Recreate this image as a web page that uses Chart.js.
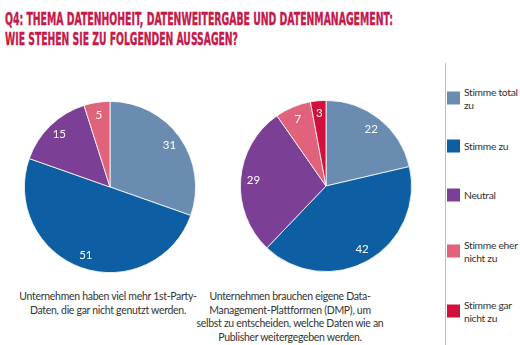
<!DOCTYPE html>
<html>
<head>
<meta charset="utf-8">
<script src="https://cdn.jsdelivr.net/npm/chart.js@4"></script>
<style>
  body { margin: 0; width: 520px; height: 345px; background: #fff; position: relative; overflow: hidden; font-family: Lato, "Open Sans", sans-serif; }
  .title { position: absolute; left: 5px; color: #c6184a; font-family: "DejaVu Sans Condensed", "DejaVu Sans", sans-serif; font-weight: bold; font-size: 18.5px; white-space: nowrap; transform-origin: 0 0; line-height: 1; -webkit-text-stroke: 0.4px #c6184a; }
  .pie { position: absolute; width: 180px; height: 180px; }
  .caption { position: absolute; top: 290px; text-align: center; font-size: 10.5px; line-height: 13.7px; color: #333; white-space: nowrap; letter-spacing: -0.3px; }
  .divider { position: absolute; left: 445px; top: 63px; width: 1px; height: 282px; background: #aebfcf; }
  .legend-item { position: absolute; left: 447px; display: flex; align-items: center; transform: translateY(-50%); }
  .legend-item .box { width: 13px; height: 13px; flex: none; }
  .legend-item .txt { margin-left: 4px; font-size: 10.3px; line-height: 12.5px; color: #333; white-space: nowrap; letter-spacing: -0.3px; }
</style>
</head>
<body>
<div class="title" id="t1" style="top: 10px;"></div>
<div class="title" id="t2" style="top: 30px;"></div>

<div class="pie" style="left: 20px; top: 97px;"><canvas id="pieLinks"></canvas></div>
<div class="pie" style="left: 236px; top: 96px;"><canvas id="pieRechts"></canvas></div>

<div class="caption" id="cap1" style="left: 8px; width: 200px;"></div>
<div class="caption" id="cap2" style="left: 190px; width: 200px;"></div>

<div class="divider"></div>
<div id="legende"></div>

<script>
const titel = ['Q4: THEMA DATENHOHEIT, DATENWEITERGABE UND DATENMANAGEMENT:', 'WIE STEHEN SIE ZU FOLGENDEN AUSSAGEN?'];
const titelBreite = [388, 233];

const kategorien = [['Stimme total', 'zu'], ['Stimme zu'], ['Neutral'], ['Stimme eher', 'nicht zu'], ['Stimme gar', 'nicht zu']];
const farben = ['#6a8cb0', '#0d5ea3', '#7b3f96', '#e1637b', '#d1103c'];

const werteLinks = [31, 51, 15, 5, 0];
const werteRechts = [22, 42, 29, 7, 3];

const aussageLinks = ['Unternehmen haben viel mehr 1st-Party-', 'Daten, die gar nicht genutzt werden.'];
const aussageRechts = ['Unternehmen brauchen eigene Data-', 'Management-Plattformen (DMP), um', 'selbst zu entscheiden, welche Daten wie an', 'Publisher weitergegeben werden.'];

const legendeY = [98, 146, 195, 251, 311];

// Titel: schmal gestaucht wie eine Condensed-Schrift
titel.forEach((zeile, i) => {
    const el = document.getElementById('t' + (i + 1));
    el.textContent = zeile;
    const w = el.getBoundingClientRect().width;
    el.style.transform = 'scale(' + (titelBreite[i] / w) + ', 1)';
});

document.getElementById('cap1').innerHTML = aussageLinks.join('<br>');
document.getElementById('cap2').innerHTML = aussageRechts.join('<br>');

const legende = document.getElementById('legende');
kategorien.forEach((k, i) => {
    const item = document.createElement('div');
    item.className = 'legend-item';
    item.style.top = legendeY[i] + 'px';
    item.innerHTML = '<div class="box" style="background:' + farben[i] + '"></div><div class="txt">' + k.join('<br>') + '</div>';
    legende.appendChild(item);
});

// Werte weiß in die Segmente schreiben
const wertBeschriftung = {
    id: 'wertBeschriftung',
    afterDatasetsDraw(chart) {
        const ctx = chart.ctx;
        const meta = chart.getDatasetMeta(0);
        ctx.save();
        ctx.font = '11.5px Lato, "Open Sans", sans-serif';
        ctx.fillStyle = '#fff';
        ctx.textAlign = 'center';
        ctx.textBaseline = 'middle';
        meta.data.forEach((arc, i) => {
            const wert = chart.data.datasets[0].data[i];
            if (!wert) return;
            const mitte = (arc.startAngle + arc.endAngle) / 2;
            const r = arc.outerRadius * 0.85;
            ctx.fillText(wert, arc.x + Math.cos(mitte) * r, arc.y + Math.sin(mitte) * r);
        });
        ctx.restore();
    }
};

function tortenDiagramm(id, werte) {
    const el = document.getElementById(id);
    new Chart(el, {
        type: 'pie',
        data: {
            labels: kategorien.map(k => k.join(' ')),
            datasets: [{
                data: werte,
                backgroundColor: farben,
                borderColor: '#ffffff',
                borderWidth: c => (c.raw ? 0.8 : 0)
            }]
        },
        options: {
            responsive: true,
            maintainAspectRatio: false,
            animation: false,
            layout: { padding: 4 },
            plugins: {
                legend: { display: false },
                tooltip: { enabled: false }
            }
        },
        plugins: [wertBeschriftung]
    });
}

tortenDiagramm('pieLinks', werteLinks);
tortenDiagramm('pieRechts', werteRechts);
</script>
</body>
</html>
